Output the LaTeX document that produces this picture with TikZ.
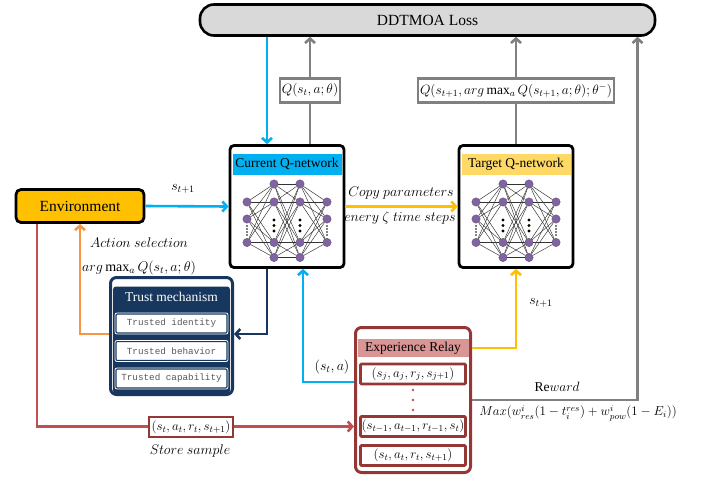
\RequirePackage{fix-cm}
\documentclass[tikz,border=0pt]{standalone}
\usepackage{fontspec}
\setmainfont{Liberation Serif}
\setmonofont{Liberation Mono}
\usetikzlibrary{arrows.meta,calc}
\definecolor{cblue}{HTML}{00B0F0}
\definecolor{cgold}{HTML}{FFC000}
\definecolor{cband}{HTML}{FFD966}
\definecolor{corange}{HTML}{F79646}
\definecolor{cred}{HTML}{C0504D}
\definecolor{cnavy}{HTML}{17375E}
\definecolor{crelay}{HTML}{953735}
\definecolor{cpink}{HTML}{D99694}
\definecolor{cgray}{HTML}{808080}
\definecolor{closs}{HTML}{D9D9D9}
\definecolor{cneuron}{HTML}{8064A2}
\definecolor{ctext}{HTML}{595959}
\tikzset{
  arr/.style={line width=2.6pt,-{Straight Barb[length=4.5pt,width=10pt]}},
  lossbox/.style={draw=black,line width=2.6pt,fill=closs,rounded corners=14pt,minimum width=455pt,minimum height=31pt,inner sep=0pt,font=\fontsize{15.5}{18}\selectfont},
  qbox/.style={draw=black,line width=2.8pt,fill=white,rounded corners=4pt,minimum width=114pt,minimum height=122pt,inner sep=0pt},
  band/.style={minimum width=109pt,minimum height=21pt,inner sep=0pt,font=\fontsize{13.5}{16}\selectfont},
  envbox/.style={draw=black,line width=2.8pt,fill=cgold,rounded corners=5pt,minimum width=128pt,minimum height=33pt,inner sep=0pt,font=\fontsize{15.5}{18}\selectfont},
  lbl/.style={draw=cgray,line width=2.4pt,fill=white,inner sep=2pt,minimum height=24pt,font=\fontsize{13.5}{15}\selectfont},
  mtext/.style={inner sep=0pt,font=\fontsize{14}{16}\selectfont},
  trustitem/.style={draw=cnavy,line width=1.3pt,double=white,double distance=0.8pt,fill=white,rounded corners=2pt,minimum width=113pt,minimum height=21pt,inner sep=0pt,text=ctext,font=\ttfamily\fontsize{9.3}{11}\selectfont},
  relayitem/.style={draw=crelay,line width=2.6pt,fill=white,rounded corners=1pt,minimum width=105pt,minimum height=20pt,inner sep=0pt,font=\fontsize{13}{15}\selectfont},
  neuron/.style={circle,fill=cneuron,draw=cneuron!70!black,line width=0.3pt,minimum size=8.4pt,inner sep=0pt},
  edge/.style={line width=0.45pt,draw=black!80},
}
\newcommand{\drawqnet}[2]{%
  \begin{scope}[shift={(#2.center)}]
    \foreach \i/\yy in {1/-4.5,2/12.5,3/36}{%
      \node[neuron] (#1-a\i) at (-40,\yy) {};
      \node[neuron] (#1-d\i) at (40,\yy) {};}
    \foreach \i/\yy in {1/-22.5,2/-4.5,3/36,4/51}{%
      \node[neuron] (#1-b\i) at (-13,\yy) {};
      \node[neuron] (#1-c\i) at (13,\yy) {};}
    \foreach \i in {1,2,3}{\foreach \j in {1,2,3,4}{%
      \draw[edge] (#1-a\i) -- (#1-b\j);
      \draw[edge] (#1-c\j) -- (#1-d\i);}}
    \foreach \i in {1,2,3,4}{\foreach \j in {1,2,3,4}{%
      \draw[edge] (#1-b\i) -- (#1-c\j);}}
    \foreach \yy in {19.5,22.5,25.5,28.5}{%
      \fill (-40,\yy) circle (0.9pt);
      \fill (40,\yy) circle (0.9pt);}
    \foreach \yy in {13.5,19,24.5}{%
      \fill (-13,\yy) circle (1.7pt);
      \fill (13,\yy) circle (1.7pt);}
  \end{scope}}
\begin{document}
\begin{tikzpicture}[x=1pt,y=-1pt]
\useasboundingbox (0,0) rectangle (704,477);
% main boxes
\node[lossbox] (loss) at (427.5,20) {DDTMOA Loss};
\node[qbox] (cq) at (287,206.5) {};
\node[band,fill=cblue] (cqt) at (287,164) {Current Q-network};
\node[qbox] (tq) at (516,206.5) {};
\node[band,fill=cband] (tqt) at (516,164) {Target Q-network};
\drawqnet{cn}{cq}
\drawqnet{tn}{tq}
\node[envbox] (env) at (80,206) {Environment};
% trust mechanism
\node[draw=cnavy,line width=3pt,fill=white,rounded corners=6pt,minimum width=122pt,minimum height=117pt,inner sep=0pt] (trust) at (171.5,336) {};
\node[fill=cnavy,rounded corners=3pt,minimum width=117pt,minimum height=107pt,inner sep=0pt] (trustin) at (171.5,340) {};
\node[text=white,inner sep=0pt,font=\fontsize{13.5}{16}\selectfont] (trustt) at (171.5,297) {Trust mechanism};
\node[trustitem] (ti1) at (171.5,323.5) {Trusted identity};
\node[trustitem] (ti2) at (171.5,351) {Trusted behavior};
\node[trustitem] (ti3) at (171.5,378.5) {Trusted capability};
% experience relay
\node[draw=crelay,line width=3pt,fill=white,rounded corners=6pt,minimum width=115pt,minimum height=145pt,inner sep=0pt] (relay) at (413,400) {};
\node[fill=cpink,minimum width=111pt,minimum height=18pt,inner sep=0pt,font=\fontsize{13.5}{16}\selectfont] (rband) at (413,348) {Experience Relay};
\node[relayitem] (rsj) at (413,374) {$(s_j,a_j,r_j,s_{j+1})$};
\node[relayitem] (rst1) at (413,426.5) {$(s_{t-1},a_{t-1},r_{t-1},s_t)$};
\node[relayitem] (rst) at (413,455.5) {$(s_t,a_t,r_t,s_{t+1})$};
\foreach \yy in {390,400,410}{\fill[cred] (413,\yy) circle (1.3pt);}
% connectors
\draw[arr,cblue] ([xshift=-20pt]loss.south -| cq.north) -- ([xshift=-20pt]cq.north);
\draw[arr,cgray] ([xshift=23pt]cq.north) -- ([xshift=23pt]cq.north |- loss.south);
\node[lbl] (lq) at ($([xshift=23pt]cq.north)!0.5!([xshift=23pt]cq.north |- loss.south)$) {$Q(s_t,a;\theta)$};
\draw[arr,cgray] (tq.north) -- (tq.north |- loss.south);
\node[lbl] (lt) at ($(tq.north)!0.5!(tq.north |- loss.south)$) {$Q(s_{t+1},arg\max_a Q(s_{t+1},a;\theta);\theta^{-})$};
\draw[arr,cblue] (env.east) -- (cq.west);
\node[mtext] (lst) at (183,189) {$s_{t+1}$};
\draw[arr,cgold] (cq.east) -- (tq.west);
\node[mtext] (lcp) at (401,193) {$Copy\ parameters$};
\node[mtext] (lev) at (400,218) {$enery\ \zeta\ time\ steps$};
\draw[arr,cnavy] ([xshift=-20pt]cq.south) |- ([yshift=2pt]trust.east);
\draw[arr,corange] ([yshift=2pt]trust.west) -| (env.south);
\node[mtext] (las) at (139,243) {$Action\ selection$};
\node[mtext] (lam) at (139,268) {$arg\max_a Q(s_t,a;\theta)$};
\draw[arr,cblue] ([yshift=18pt]relay.west) -| ([xshift=16pt]cq.south);
\node[mtext] (lsa) at (332,367) {$(s_t,a)$};
\draw[arr,cgold] (rband.east -| relay.east) -| (tq.south);
\node[mtext] (lst2) at (541,303) {$s_{t+1}$};
\draw[arr,cgray] (relay.east) -| ([xshift=210pt]loss.south);
\node[mtext,font=\fontsize{13.5}{16}\selectfont] (lrw) at (557,387) {Re$ward$};
\node[mtext,font=\fontsize{13}{15}\selectfont] (lmx) at (578,413) {$Max(w_{res}^{i}(1-t_i^{res})+w_{pow}^{i}(1-E_i))$};
\draw[arr,cred] ([xshift=-43pt]env.south) |- (rst1.west -| relay.west);
\node[lbl,draw=crelay,line width=2.8pt,minimum height=20pt,inner sep=2.5pt,font=\fontsize{13}{15}\selectfont] (lss) at (191,427) {$(s_t,a_t,r_t,s_{t+1})$};
\node[mtext] (lsm) at (190,451) {$Store\ sample$};
\end{tikzpicture}
\end{document}
